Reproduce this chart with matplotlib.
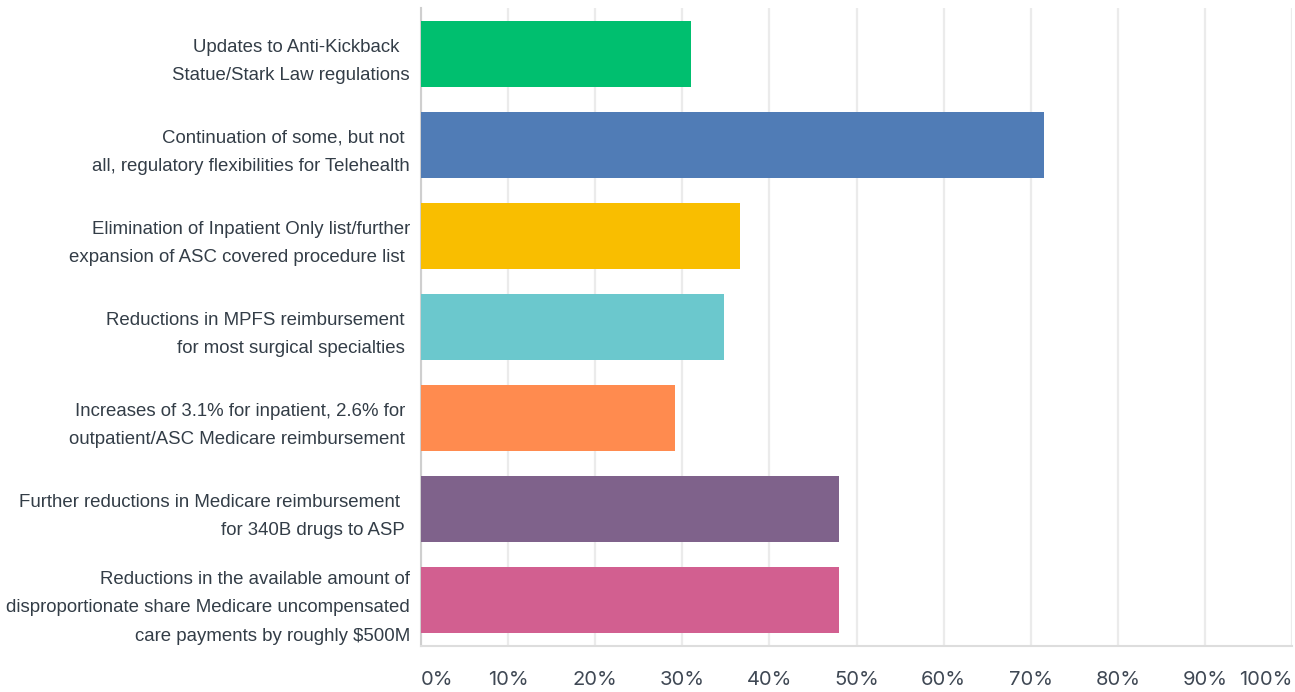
import numpy as np
import matplotlib
matplotlib.use("Agg")
import matplotlib.pyplot as plt

# survey answers, top to bottom
labels = [
    "Updates to Anti-Kickback  \nStatue/Stark Law regulations",
    "Continuation of some, but not \nall, regulatory flexibilities for Telehealth",
    "Elimination of Inpatient Only list/further\nexpansion of ASC covered procedure list ",
    "Reductions in MPFS reimbursement \nfor most surgical specialties ",
    "Increases of 3.1% for inpatient, 2.6% for \noutpatient/ASC Medicare reimbursement ",
    "Further reductions in Medicare reimbursement  \nfor 340B drugs to ASP ",
    "Reductions in the available amount of\ndisproportionate share Medicare uncompensated\ncare payments by roughly $500M",
]
values = [31.0, 71.5, 36.6, 34.8, 29.2, 48.0, 48.0]
colors = ["#00BF6F", "#507CB6", "#F9BE00", "#6BC8CD", "#FF8B4F", "#7F628B", "#D25F90"]
xticks = [0, 10, 20, 30, 40, 50, 60, 70, 80, 90, 100]

fig = plt.figure(figsize=(12.95, 6.92), dpi=100)
ax = fig.add_axes([421 / 1295, 1 - 646 / 692, 871 / 1295, 638 / 692])

y = np.arange(len(labels))
ax.barh(y, values, height=0.725, color=colors, zorder=3)

ax.set_xlim(0, 100)
ax.set_ylim(len(labels) - 0.5, -0.5)

ax.set_xticks(xticks)
ax.set_xticklabels(["%d%%" % t for t in xticks], fontsize=14.5, color="#3f4854",
                   family=["Inter", "DejaVu Sans"])
tl = ax.get_xticklabels()
tl[0].set_horizontalalignment("left")
tl[-1].set_horizontalalignment("right")
ax.tick_params(axis="x", length=0, pad=18)

ax.set_yticks(y)
ax.set_yticklabels(labels, fontsize=13.4, color="#333d47",
                   family=["Liberation Sans", "DejaVu Sans"], linespacing=1.85)
ax.tick_params(axis="y", length=0, pad=8)

ax.grid(axis="x", color="#ebebeb", linewidth=1.6, zorder=0)
for s in ["top", "right"]:
    ax.spines[s].set_visible(False)
ax.spines["left"].set_color("#cfcfcf")
ax.spines["left"].set_linewidth(1.5)
ax.spines["bottom"].set_color("#dddddd")
ax.spines["bottom"].set_linewidth(1.5)

fig.savefig("out.png", dpi=100)
